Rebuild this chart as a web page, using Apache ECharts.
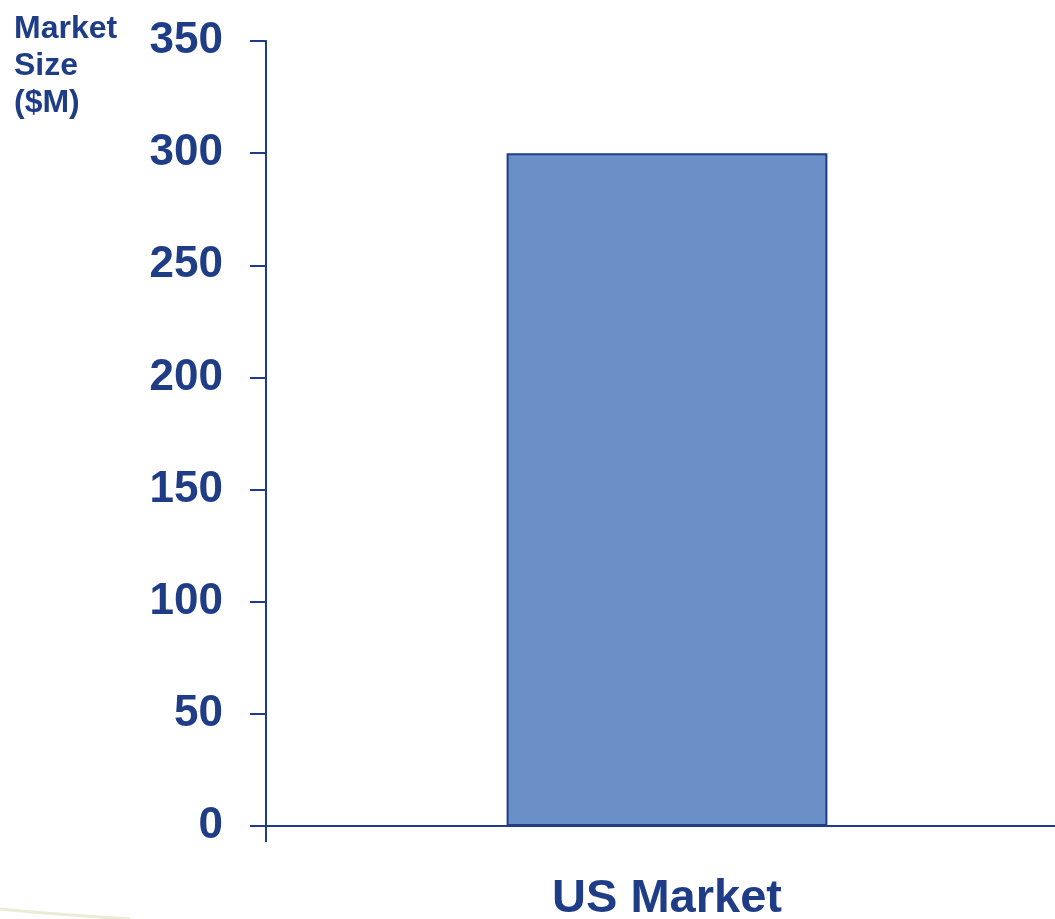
<!DOCTYPE html>
<html>
<head>
<meta charset="utf-8">
<script src="https://cdn.jsdelivr.net/npm/echarts@6/dist/echarts.min.js"></script>
<style>html,body{margin:0;padding:0;background:#fff}#c{width:1055px;height:919px}</style>
</head>
<body>
<div id="c"></div>
<script>
const categories = ['US Market'];
const marketSize = [300];
const yTicks = {min: 0, max: 350, interval: 50};
const axisTitle = 'Market\nSize\n($M)';

const navy = '#1F3D87';
const chart = echarts.init(document.getElementById('c'), null, {renderer: 'canvas'});
chart.setOption({
  animation: false,
  backgroundColor: '#ffffff',
  title: {
    text: axisTitle,
    left: 9, top: 6,
    textStyle: {color: navy, fontFamily: 'Liberation Sans, Arial', fontWeight: 'bold', fontSize: 32, lineHeight: 37}
  },
  graphic: [{
    type: 'bezierCurve',
    shape: {x1: 0, y1: 909, x2: 130, y2: 919, cpx1: 50, cpy1: 914},
    style: {stroke: '#ECEBD6', lineWidth: 3, fill: null},
    silent: true
  }],
  grid: {left: 266, right: -13, top: 41, bottom: 93, containLabel: false, outerBoundsMode: 'none'},
  xAxis: {
    type: 'category',
    data: categories,
    boundaryGap: true,
    axisLine: {show: true, lineStyle: {color: navy, width: 2}},
    axisTick: {show: true, length: 16, lineStyle: {color: navy, width: 2}},
    axisLabel: {color: navy, fontFamily: 'Liberation Sans, Arial', fontWeight: 'bold', fontSize: 47, margin: 50}
  },
  yAxis: {
    type: 'value',
    min: yTicks.min, max: yTicks.max, interval: yTicks.interval,
    splitLine: {show: false},
    axisLine: {show: true, lineStyle: {color: navy, width: 2}},
    axisTick: {show: true, length: 16, lineStyle: {color: navy, width: 2}},
    axisLabel: {color: navy, fontFamily: 'Liberation Sans, Arial', fontWeight: 'bold', fontSize: 44, margin: 43}
  },
  series: [{
    type: 'bar',
    data: marketSize,
    barWidth: '40%',
    itemStyle: {color: '#6B8FC7', borderColor: navy, borderWidth: 2}
  }]
});
</script>
</body>
</html>
